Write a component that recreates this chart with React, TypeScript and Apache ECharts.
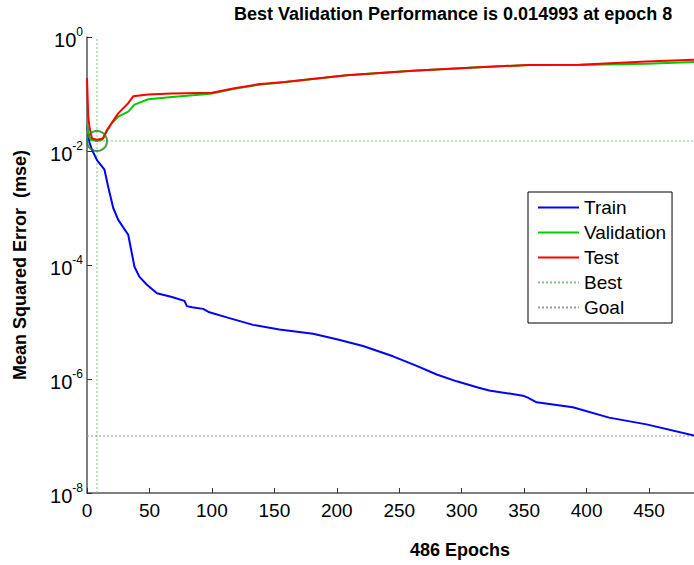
import React, { useEffect, useRef } from 'react';
import * as echarts from 'echarts';

const FONT = 'Arial, "Liberation Sans", Helvetica, sans-serif';

// Training record: epoch -> mean squared error
const trainEpochs = [0, 2, 4, 8, 14, 17, 21, 25, 33, 38, 42, 48, 56, 68, 78, 80, 84, 93, 98, 114, 133, 154, 181, 200, 221, 245, 264, 280, 296, 313, 322, 349, 353, 360, 389, 418, 448, 486];
const trainMse = [0.028, 0.0141, 0.0105, 0.0069, 0.0047, 0.00234, 0.001, 0.00062, 0.00034, 9.3e-5, 6.2e-5, 4.5e-5, 3.2e-5, 2.75e-5, 2.35e-5, 1.9e-5, 1.82e-5, 1.7e-5, 1.48e-5, 1.17e-5, 8.9e-6, 7.4e-6, 6.2e-6, 5.0e-6, 3.8e-6, 2.5e-6, 1.7e-6, 1.2e-6, 9.1e-7, 7.1e-7, 6.3e-7, 5.1e-7, 4.7e-7, 3.9e-7, 3.2e-7, 2.1e-7, 1.6e-7, 1.02e-7];

const valEpochs = [0, 1, 3, 8, 12, 14, 20, 25, 33, 38, 49, 68, 92, 100, 118, 137, 154, 208, 261, 314, 354, 394, 448, 486];
const valMse = [0.03, 0.02, 0.0158, 0.014993, 0.0158, 0.019, 0.031, 0.04, 0.049, 0.065, 0.081, 0.089, 0.098, 0.102, 0.123, 0.145, 0.158, 0.214, 0.257, 0.295, 0.324, 0.324, 0.339, 0.363];

const testEpochs = [0, 1, 2, 4, 8, 13, 16, 25, 33, 37, 49, 68, 100, 118, 137, 158, 208, 261, 314, 354, 394, 448, 486];
const testMse = [0.19, 0.04, 0.026, 0.0166, 0.0158, 0.0166, 0.0234, 0.0457, 0.069, 0.091, 0.098, 0.102, 0.105, 0.126, 0.148, 0.162, 0.214, 0.257, 0.295, 0.324, 0.327, 0.372, 0.398];

const totalEpochs = 486;
const bestEpoch = 8;
const bestPerf = 0.014993;
const goalMse = 1e-7;
const yMin = 1e-8;
const yMax = 1;

const legendNames = ['Train', 'Validation', 'Test', 'Best', 'Goal'];

const zip = (xs: number[], ys: number[]) => xs.map((x, i) => [x, ys[i]]);

export default function App() {
  const ref = useRef<HTMLDivElement>(null);

  useEffect(() => {
    if (!ref.current) return;
    const chart = echarts.init(ref.current, undefined, { renderer: 'svg' });

    const bestStyle = { color: '#7cc47c', width: 1, type: [2, 2] as any };
    const goalStyle = { color: '#9a9a9a', width: 1, type: [2, 2] as any };

    chart.setOption({
      animation: false,
      backgroundColor: '#fff',
      textStyle: { fontFamily: FONT },
      title: {
        text: `Best Validation Performance is ${bestPerf} at epoch ${bestEpoch}`,
        left: 234,
        top: 5,
        padding: 0,
        textStyle: { fontSize: 18, fontWeight: 'bold', color: '#000', fontFamily: FONT },
      },
      grid: { left: 87, top: 37, right: 0, bottom: 72, containLabel: false },
      legend: {
        data: legendNames,
        orient: 'vertical',
        left: 528,
        top: 192,
        itemWidth: 41,
        itemHeight: 20,
        itemGap: 6,
        padding: [6, 6, 6, 9],
        borderColor: '#000',
        borderWidth: 1,
        backgroundColor: '#fff',
        itemStyle: { opacity: 0 },
        textStyle: { fontSize: 19, color: '#000', fontFamily: FONT },
      },
      xAxis: {
        type: 'value',
        min: 0,
        max: totalEpochs,
        interval: 50,
        axisLine: { show: true, lineStyle: { color: '#555', width: 1.5 } },
        axisTick: { show: true, inside: true, length: 5, lineStyle: { color: '#333' } },
        splitLine: { show: false },
        axisLabel: {
          fontSize: 19,
          color: '#000',
          margin: 8,
          fontFamily: FONT,
          showMaxLabel: false,
        },
      },
      yAxis: {
        type: 'log',
        logBase: 10,
        min: yMin,
        max: yMax,
        interval: 2,
        axisLine: { show: true, lineStyle: { color: '#555', width: 1.5 } },
        axisTick: { show: true, inside: true, length: 5, lineStyle: { color: '#333' } },
        minorTick: { show: false },
        splitLine: { show: false },
        axisLabel: {
          margin: 4,
          formatter: (v: number) => `{b|10}{s|${Math.round(Math.log10(v))}}`,
          rich: {
            b: { fontSize: 20, color: '#000', fontFamily: FONT, padding: [6, 0, 0, 0] },
            s: { fontSize: 12, color: '#000', fontFamily: FONT, padding: [0, 0, 10, 0] },
          },
        },
      },
      series: [
        {
          name: 'Best',
          type: 'line',
          data: [[bestEpoch, yMin], [bestEpoch, yMax]],
          symbol: 'none',
          lineStyle: bestStyle,
          itemStyle: { color: bestStyle.color },
          z: 1,
        },
        {
          name: 'Best',
          type: 'line',
          data: [[0, bestPerf], [totalEpochs, bestPerf]],
          symbol: 'none',
          lineStyle: bestStyle,
          itemStyle: { color: bestStyle.color },
          z: 1,
        },
        {
          name: 'Goal',
          type: 'line',
          data: [[0, goalMse], [totalEpochs, goalMse]],
          symbol: 'none',
          lineStyle: goalStyle,
          itemStyle: { color: goalStyle.color },
          z: 1,
        },
        {
          name: 'Train',
          type: 'line',
          data: zip(trainEpochs, trainMse),
          symbol: 'none',
          lineStyle: { color: '#0000ff', width: 2 },
          itemStyle: { color: '#0000ff' },
          z: 3,
        },
        {
          name: 'Validation',
          type: 'line',
          data: zip(valEpochs, valMse),
          symbol: 'none',
          lineStyle: { color: '#00cc00', width: 2 },
          itemStyle: { color: '#00cc00' },
          z: 3,
        },
        {
          name: 'Test',
          type: 'line',
          data: zip(testEpochs, testMse),
          symbol: 'none',
          lineStyle: { color: '#ff0000', width: 2 },
          itemStyle: { color: '#ff0000' },
          z: 4,
        },
        {
          name: 'Best',
          type: 'scatter',
          data: [[bestEpoch, bestPerf]],
          symbol: 'circle',
          symbolSize: 20,
          itemStyle: { color: 'rgba(0,0,0,0)', borderColor: '#1a8a1a', borderWidth: 2 },
          z: 5,
        },
      ],
      graphic: [
        {
          type: 'text',
          x: 460,
          y: 550,
          style: {
            text: `${totalEpochs} Epochs`,
            align: 'center',
            verticalAlign: 'middle',
            font: `bold 18px ${FONT}`,
            fill: '#000',
          },
        },
        {
          type: 'text',
          x: 20,
          y: 265,
          rotation: Math.PI / 2,
          style: {
            text: 'Mean Squared Error  (mse)',
            align: 'center',
            verticalAlign: 'middle',
            font: `bold 18px ${FONT}`,
            fill: '#000',
          },
        },
      ],
    });

    return () => chart.dispose();
  }, []);

  return (
    <div
      ref={ref}
      style={{ position: 'fixed', left: 0, top: 0, width: 694, height: 565, background: '#fff' }}
    />
  );
}
